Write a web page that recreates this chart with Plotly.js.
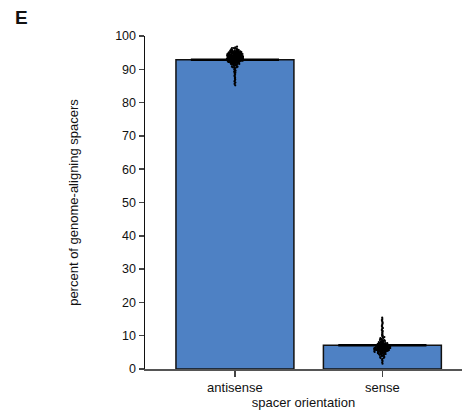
<!DOCTYPE html>
<html>
<head>
<meta charset="utf-8">
<script src="https://cdn.plot.ly/plotly-3.0.1.min.js"></script>
<style>
  html, body { margin: 0; padding: 0; background: #fff; }
  #chart { width: 464px; height: 414px; }
</style>
</head>
<body>
<div id="chart"></div>
<script>
// Spacer orientation categories and mean percentages
const categories = ['antisense', 'sense'];
const meanPercent = [92.9, 7.1];

// Per-sample percentages, tabulated as value / number of samples at that value
const antisenseValues = [96.8, 96.6, 96.4, 96.2, 96.0, 95.8, 95.6, 95.4, 95.2, 95.0, 94.8, 94.6, 94.4, 94.2, 94.0,
  93.8, 93.6, 93.4, 93.2, 93.0, 92.8, 92.6, 92.4, 92.2, 92.0, 91.8, 91.6, 91.4, 91.2, 91.0, 90.8, 90.6, 90.4,
  90.2, 90.0, 89.8, 89.6, 89.4, 89.2, 89.0, 88.7, 88.4, 88.1, 87.8, 87.5, 87.2, 86.9, 86.6, 86.3, 86.0, 85.6, 85.2];
const antisenseCounts = [1, 1, 2, 2, 3, 4, 5, 7, 9, 11, 13, 15, 18, 20, 22,
  24, 25, 24, 22, 20, 17, 14, 11, 9, 7, 5, 4, 3, 3, 2, 2, 2, 1,
  1, 1, 1, 1, 1, 1, 1, 1, 1, 1, 1, 1, 1, 1, 1, 1, 1, 1, 1];

const senseValues = [15.4, 15.0, 14.7, 14.4, 14.1, 13.8, 13.5, 13.2, 12.9, 12.6, 12.3, 12.0, 11.7, 11.4, 11.1,
  10.8, 10.5, 10.2, 9.9, 9.6, 9.3, 9.0, 8.7, 8.4, 8.1, 7.8, 7.5, 7.2, 6.9, 6.6, 6.3, 6.0, 5.7, 5.4, 5.1,
  4.8, 4.5, 4.2, 3.9, 3.6, 3.3, 3.0, 2.7, 2.4, 2.0, 1.6];
const senseCounts = [1, 1, 1, 1, 1, 1, 1, 1, 1, 1, 1, 1, 1, 1, 1,
  1, 1, 2, 2, 2, 2, 3, 3, 4, 5, 7, 10, 14, 18, 22, 25, 24, 20, 15, 11,
  8, 5, 4, 3, 2, 2, 1, 1, 1, 1, 1];

const yTicks = [0, 10, 20, 30, 40, 50, 60, 70, 80, 90, 100];

const FONT = 'Arial, "Liberation Sans", sans-serif';

// Expand a value/count table into the list of individual samples
function expand(values, counts) {
  const out = [];
  values.forEach((v, i) => { for (let k = 0; k < counts[i]; k++) out.push(v); });
  return out;
}

const bars = {
  type: 'bar',
  x: categories,
  y: meanPercent,
  width: 0.8,
  marker: { color: '#4e81c4', line: { color: '#111', width: 1.5 } },
  hoverinfo: 'x+y'
};

// Short horizontal mean marks on top of each bar (line-ew spans 1.4 x size)
const meanLines = {
  type: 'scatter',
  mode: 'markers',
  x: categories,
  y: meanPercent,
  marker: { symbol: 'line-ew', size: 63, color: '#000', line: { color: '#000', width: 2.5 } },
  hoverinfo: 'skip'
};

// Point strip: the dense core is spread sideways, lone outliers stay in one column
function strip(cat, values, jitter) {
  return {
    type: 'box',
    x: values.map(() => cat),
    y: values,
    width: 0.8,
    boxpoints: 'all',
    jitter: jitter,
    pointpos: 0,
    fillcolor: 'rgba(0,0,0,0)',
    line: { width: 0, color: 'rgba(0,0,0,0)' },
    whiskerwidth: 0,
    marker: { color: '#000', size: 2.2 },
    hoverinfo: 'y'
  };
}

const antisenseAll = expand(antisenseValues, antisenseCounts);
const senseAll = expand(senseValues, senseCounts);
const antisenseCore = antisenseAll.filter(v => v >= 90.5);
const antisenseTail = antisenseAll.filter(v => v < 90.5);
const senseCore = senseAll.filter(v => v <= 9.7 && v >= 3.1);
const senseTail = senseAll.filter(v => v > 9.7 || v < 3.1);

const data = [
  bars,
  meanLines,
  strip(categories[0], antisenseCore, 0.14),
  strip(categories[0], antisenseTail, 0.012),
  strip(categories[1], senseCore, 0.14),
  strip(categories[1], senseTail, 0.012)
];

const layout = {
  width: 464,
  height: 414,
  margin: { l: 145, r: 2, t: 36, b: 45 },
  paper_bgcolor: '#fff',
  plot_bgcolor: '#fff',
  showlegend: false,
  boxmode: 'overlay',
  font: { family: FONT, color: '#111', size: 13 },
  xaxis: {
    type: 'category',
    range: [-0.61, 1.54],
    showgrid: false,
    zeroline: false,
    showline: true,
    linecolor: '#555',
    linewidth: 1.5,
    ticks: 'outside',
    ticklen: 6,
    tickwidth: 1.5,
    tickcolor: '#444',
    tickfont: { size: 13, family: FONT, color: '#111' },
    title: { text: 'spacer orientation', font: { size: 13, family: FONT, color: '#111' }, standoff: 2 }
  },
  yaxis: {
    range: [0, 100],
    tickvals: yTicks,
    showgrid: false,
    zeroline: false,
    showline: true,
    linecolor: '#111',
    linewidth: 1.5,
    ticks: 'outside',
    ticklen: 5,
    tickwidth: 1.5,
    tickcolor: '#444',
    tickfont: { size: 12.5, family: FONT, color: '#111' },
    title: { text: 'percent of genome-aligning spacers', font: { size: 13, family: FONT, color: '#111' }, standoff: 33 }
  },
  annotations: [{
    text: '<b>E</b>',
    xref: 'paper', yref: 'paper',
    x: (13 - 145) / 317, y: 1 + (36 - 17) / 333,
    xanchor: 'left', yanchor: 'middle',
    showarrow: false,
    font: { size: 19, family: FONT, color: '#111' }
  }]
};

Plotly.newPlot('chart', data, layout, { displayModeBar: false, staticPlot: true });
</script>
</body>
</html>
